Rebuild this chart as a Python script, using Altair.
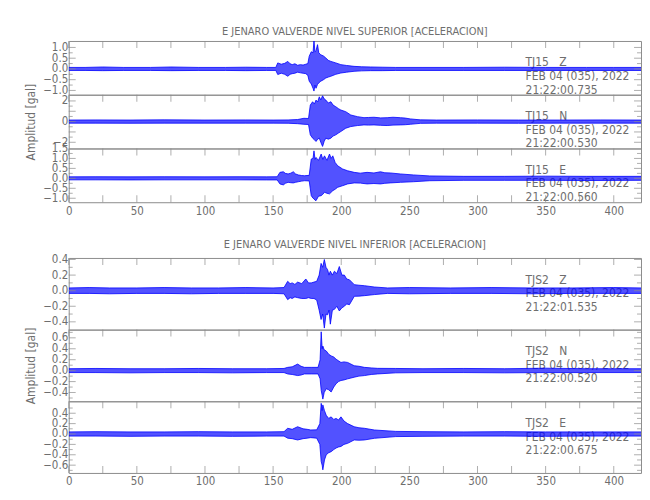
import altair as alt
import pandas as pd

# ---------------- data ----------------
T_MAX = 420
X_LABELS = [0, 50, 100, 150, 200, 250, 300, 350, 400]
X_TICKS = [0, 25, 50, 75, 100, 125, 150, 175, 200, 225, 250, 275, 300, 325, 350, 375, 400]

# Upper station (TJ15) -- amplitude envelope of each component [gal]
tj15_z_t = [0, 12, 25, 40, 60, 75, 95, 115, 130, 145, 152, 153.4, 156, 158.5, 160.8, 162.5, 164, 166, 168, 170,
            172, 174, 175.5, 176.5, 178, 179.3, 180, 180.7, 181.5, 182.6, 183.5, 185, 187, 188.7, 190.5, 192.4,
            196, 199.7, 204, 209.4, 215, 221.6, 230, 240, 260, 290, 320, 350, 380, 400, 420]
tj15_z_up = [0.07, 0.07, 0.09, 0.07, 0.07, 0.09, 0.07, 0.07, 0.08, 0.07, 0.07, 0.28, 0.22, 0.26, 0.35, 0.24, 0.2,
             0.24, 0.17, 0.2, 0.18, 0.22, 0.25, 0.59, 0.8, 0.75, 1.31, 0.8, 0.85, 1.13, 0.75, 0.66, 0.6, 0.51, 0.4,
             0.35, 0.28, 0.2, 0.16, 0.12, 0.1, 0.09, 0.08, 0.07, 0.07, 0.07, 0.08, 0.07, 0.07, 0.07, 0.07]
tj15_z_lo = [-0.07, -0.07, -0.08, -0.07, -0.07, -0.08, -0.07, -0.07, -0.08, -0.07, -0.07, -0.26, -0.2, -0.25, -0.34,
             -0.25, -0.22, -0.2, -0.15, -0.18, -0.2, -0.22, -0.3, -0.57, -0.7, -0.9, -1.03, -0.75, -0.9, -0.72,
             -0.65, -0.57, -0.5, -0.42, -0.38, -0.34, -0.25, -0.19, -0.15, -0.11, -0.09, -0.08, -0.08, -0.07,
             -0.07, -0.07, -0.07, -0.07, -0.07, -0.07, -0.07]

tj15_n_t = [0, 20, 45, 70, 100, 130, 150, 161, 168, 172.6, 176, 177.3, 179, 180.3, 181.5, 182.7, 183.9, 185, 186.3,
            187.5, 188.7, 190.5, 192.4, 194, 196, 198, 199.7, 203.3, 207, 211.9, 216.7, 220, 224, 229, 233.7, 238,
            243.4, 247, 250.7, 258, 270, 300, 330, 360, 390, 420]
tj15_n_up = [0.15, 0.16, 0.15, 0.17, 0.15, 0.16, 0.15, 0.16, 0.2, 0.32, 0.3, 1.6, 1.92, 1.7, 2.08, 1.9, 2.4, 2.1, 2.5,
             2.2, 2.08, 1.8, 1.92, 1.6, 1.44, 1.25, 1.12, 0.96, 0.64, 0.48, 0.38, 0.4, 0.42, 0.36, 0.38, 0.42, 0.38,
             0.34, 0.26, 0.17, 0.15, 0.16, 0.15, 0.15, 0.16, 0.15]
tj15_n_lo = [-0.15, -0.15, -0.16, -0.15, -0.15, -0.15, -0.15, -0.16, -0.2, -0.26, -0.28, -1.28, -1.6, -1.75, -1.92,
             -1.7, -1.6, -2.0, -2.4, -1.9, -1.6, -1.7, -1.6, -1.4, -1.28, -1.1, -0.96, -0.64, -0.48, -0.38, -0.32,
             -0.34, -0.32, -0.36, -0.38, -0.34, -0.32, -0.3, -0.26, -0.17, -0.15, -0.15, -0.16, -0.15, -0.15, -0.15]

tj15_e_t = [0, 20, 45, 70, 100, 125, 145, 153, 155, 157.5, 159, 161, 163, 164.8, 166.5, 168.5, 171, 173, 176.5, 178,
            179.3, 180, 180.8, 181.5, 183.3, 185.3, 186.5, 187.7, 189.5, 191.4, 192.6, 193.8, 195.5, 197.4, 201,
            204.7, 209.5, 214, 219, 224, 228.8, 232, 236, 243.4, 253, 265, 290, 320, 350, 380, 420]
tj15_e_up = [0.075, 0.08, 0.075, 0.08, 0.075, 0.08, 0.075, 0.08, 0.3, 0.33, 0.25, 0.22, 0.26, 0.33, 0.22, 0.17, 0.14,
             0.13, 0.15, 0.97, 1.0, 1.38, 0.95, 1.05, 0.9, 1.22, 0.95, 1.13, 0.9, 1.22, 1.0, 1.13, 0.8, 0.63, 0.47,
             0.38, 0.3, 0.26, 0.3, 0.27, 0.33, 0.28, 0.27, 0.22, 0.17, 0.12, 0.1, 0.1, 0.11, 0.1, 0.1]
tj15_e_lo = [-0.075, -0.075, -0.08, -0.075, -0.075, -0.075, -0.08, -0.08, -0.28, -0.33, -0.25, -0.2, -0.22, -0.23,
             -0.2, -0.17, -0.14, -0.12, -0.13, -0.87, -1.0, -1.03, -1.1, -1.12, -0.9, -0.87, -0.8, -0.7, -0.75,
             -0.78, -0.7, -0.62, -0.55, -0.45, -0.37, -0.28, -0.23, -0.24, -0.28, -0.26, -0.28, -0.25, -0.23, -0.2,
             -0.17, -0.12, -0.1, -0.1, -0.1, -0.11, -0.1]

# Lower station (TJS2)
tjs2_z_t = [0, 15, 30, 50, 70, 90, 110, 130, 150, 158, 160.7, 162.5, 164, 166, 168, 171, 174, 176, 178, 180, 182,
            183.8, 185.2, 186.4, 187.6, 188.8, 190, 191, 192, 193.5, 195, 196.8, 198.6, 200.5, 202.3, 204, 206,
            209.6, 213, 217, 224.3, 234, 250, 280, 310, 340, 370, 400, 420]
tjs2_z_up = [0.035, 0.04, 0.035, 0.035, 0.04, 0.035, 0.035, 0.04, 0.035, 0.04, 0.12, 0.09, 0.1, 0.08, 0.11, 0.09,
             0.15, 0.1, 0.1, 0.11, 0.12, 0.2, 0.35, 0.3, 0.40, 0.3, 0.27, 0.2, 0.25, 0.2, 0.25, 0.22, 0.31, 0.2,
             0.2, 0.15, 0.14, 0.077, 0.07, 0.064, 0.047, 0.035, 0.04, 0.035, 0.04, 0.035, 0.035, 0.04, 0.035]
tjs2_z_lo = [-0.035, -0.035, -0.04, -0.035, -0.035, -0.04, -0.035, -0.035, -0.035, -0.04, -0.115, -0.09, -0.1,
             -0.08, -0.09, -0.1, -0.1, -0.09, -0.1, -0.1, -0.12, -0.25, -0.37, -0.3, -0.48, -0.3, -0.31, -0.25,
             -0.43, -0.25, -0.24, -0.2, -0.26, -0.22, -0.2, -0.17, -0.18, -0.072, -0.07, -0.064, -0.05, -0.035,
             -0.04, -0.035, -0.035, -0.04, -0.035, -0.035, -0.035]

tjs2_n_t = [0, 20, 45, 70, 95, 120, 145, 158, 160.7, 164, 168, 170.5, 173, 178, 183, 184.5, 185.3, 186, 186.5,
            187.5, 189, 190.8, 192.6, 194.5, 196.2, 198, 199.8, 202, 204.7, 209.5, 213, 217, 222, 226.7, 240, 260,
            290, 320, 350, 380, 420]
tjs2_n_up = [0.035, 0.04, 0.035, 0.035, 0.04, 0.035, 0.035, 0.04, 0.06, 0.07, 0.12, 0.08, 0.06, 0.06, 0.06, 0.2,
             0.71, 0.4, 0.45, 0.38, 0.36, 0.3, 0.27, 0.25, 0.21, 0.18, 0.15, 0.16, 0.15, 0.09, 0.08, 0.06, 0.05,
             0.042, 0.04, 0.035, 0.04, 0.035, 0.045, 0.035, 0.035]
tjs2_n_lo = [-0.035, -0.035, -0.04, -0.035, -0.035, -0.04, -0.035, -0.035, -0.06, -0.07, -0.09, -0.08, -0.06,
             -0.06, -0.06, -0.15, -0.36, -0.45, -0.52, -0.4, -0.33, -0.35, -0.39, -0.3, -0.24, -0.2, -0.18, -0.17,
             -0.15, -0.12, -0.1, -0.09, -0.07, -0.06, -0.04, -0.035, -0.035, -0.04, -0.035, -0.035, -0.035]

tjs2_e_t = [0, 20, 45, 70, 95, 120, 145, 158, 160.7, 164, 168, 172, 175, 177.6, 182, 184.3, 185.3, 186, 186.5,
            187.7, 189, 190.8, 192.6, 194.5, 196.2, 198, 199.8, 202, 204.7, 209.5, 213, 217, 224.3, 240, 260, 290,
            320, 350, 380, 420]
tjs2_e_up = [0.04, 0.045, 0.04, 0.04, 0.045, 0.04, 0.04, 0.045, 0.11, 0.09, 0.14, 0.1, 0.09, 0.077, 0.08, 0.2, 0.59,
             0.45, 0.56, 0.45, 0.36, 0.3, 0.33, 0.28, 0.3, 0.27, 0.33, 0.25, 0.2, 0.14, 0.12, 0.11, 0.077, 0.05,
             0.045, 0.04, 0.045, 0.04, 0.04, 0.04]
tjs2_e_lo = [-0.04, -0.04, -0.045, -0.04, -0.04, -0.045, -0.04, -0.04, -0.08, -0.09, -0.115, -0.09, -0.08, -0.07,
             -0.08, -0.2, -0.53, -0.6, -0.69, -0.5, -0.4, -0.36, -0.34, -0.3, -0.27, -0.25, -0.24, -0.2, -0.18,
             -0.115, -0.12, -0.115, -0.083, -0.05, -0.045, -0.04, -0.04, -0.045, -0.04, -0.04]

TITLE_TOP = "E JENARO VALVERDE NIVEL SUPERIOR [ACELERACION]"
TITLE_BOT = "E JENARO VALVERDE NIVEL INFERIOR [ACELERACION]"
Y_TITLE = "Amplitud [gal]"
SP = "\u00a0\u00a0\u00a0"

# ---------------- styling ----------------
FONT = "Liberation Sans Narrow, DejaVu Sans Condensed, Roboto Condensed, Roboto, sans-serif"
GRAY = "#6e6e6e"
FRAME = "#8c8c8c"
BLUE = "#0000ff"
W = 575
FS = 11


def panel(t, up, lo, domain, yvals, ymajor, yminor, yfmt, lines, height, text_y,
          bottom=False, ytitle=None, title=None):
    df = pd.DataFrame({"t": t, "up": up, "lo": lo})
    xs = alt.Scale(domain=[0, T_MAX], nice=False, zero=False)
    ys = alt.Scale(domain=domain, nice=False, zero=False)
    if bottom:
        xaxis = alt.Axis(values=X_LABELS, ticks=False, domain=False, grid=False, labelPadding=3,
                         labelFontSize=FS + 0.5, labelColor=GRAY, labelFont=FONT, labelFlush=False, title=None)
    else:
        xaxis = None
    yaxis = alt.Axis(values=yvals, format=yfmt, ticks=False, domain=False, grid=False, labelPadding=1,
                     labelOverlap=False, labelFlush=False, labelBound=False, labelFontSize=FS + 0.5,
                     labelColor=GRAY, labelFont=FONT, title=ytitle, titleX=-31, titleFont=FONT,
                     titleFontSize=12, titleColor=GRAY, titleFontWeight="normal")

    base = alt.Chart(df)
    area = base.mark_area(color=BLUE, opacity=0.68, clip=True).encode(
        x=alt.X("t:Q", scale=xs, axis=xaxis),
        y=alt.Y("lo:Q", scale=ys, axis=yaxis),
        y2="up:Q",
    )
    up_line = base.mark_line(color=BLUE, strokeWidth=0.8, clip=True).encode(
        x=alt.X("t:Q", scale=xs, axis=xaxis), y=alt.Y("up:Q", scale=ys, axis=yaxis))
    lo_line = base.mark_line(color=BLUE, strokeWidth=0.8, clip=True).encode(
        x=alt.X("t:Q", scale=xs, axis=xaxis), y=alt.Y("lo:Q", scale=ys, axis=yaxis))

    texts = []
    for line, yy in zip(lines, text_y):
        texts.append(
            alt.Chart(pd.DataFrame({"txt": [line]})).mark_text(
                align="left", baseline="middle", font=FONT, fontSize=12, color=GRAY
            ).encode(text="txt:N", x=alt.value(459), y=alt.value(yy))
        )

    xt = pd.DataFrame({"v": X_TICKS})
    top_ticks = alt.Chart(xt).mark_tick(orient="vertical", color=FRAME, size=7, thickness=1).encode(
        x=alt.X("v:Q", scale=xs, axis=xaxis), y=alt.value(3.5))
    layers = texts + [area, up_line, lo_line, top_ticks]
    if bottom:
        layers.append(alt.Chart(xt).mark_tick(orient="vertical", color=FRAME, size=7, thickness=1).encode(
            x=alt.X("v:Q", scale=xs, axis=xaxis), y=alt.value(height - 3.5)))

    for vals, sz in ((ymajor, 7), (yminor, 4)):
        yt = pd.DataFrame({"v": vals})
        for xx in (sz / 2, W - sz / 2):
            layers.append(alt.Chart(yt).mark_tick(orient="horizontal", color=FRAME, size=sz, thickness=1).encode(
                y=alt.Y("v:Q", scale=ys, axis=yaxis), x=alt.value(xx)))

    props = dict(width=W, height=height)
    if title is not None:
        props["title"] = alt.Title(title, font=FONT, fontSize=FS, color=GRAY, fontWeight="normal",
                                   anchor="middle", frame="group", offset=4)
    return alt.layer(*layers).properties(**props)


TY_TOP = [21.5, 35, 49]
TY_BOT = [22, 35.5, 49]

p1 = panel(tj15_z_t, tj15_z_up, tj15_z_lo, [-1.2, 1.3], [-1.0, -0.5, 0.0, 0.5, 1.0],
           [-1.0, -0.5, 0.0, 0.5, 1.0], [-0.75, -0.25, 0.25, 0.75], ".1f",
           ["TJ15" + SP + "Z", "FEB 04 (035), 2022", "21:22:00.735"], 54, TY_TOP, title=TITLE_TOP)
p2 = panel(tj15_n_t, tj15_n_up, tj15_n_lo, [-2.6, 2.6], [-2, 0, 2],
           [-2, -1, 0, 1, 2], [-1.5, -0.5, 0.5, 1.5], "d",
           ["TJ15" + SP + "N", "FEB 04 (035), 2022", "21:22:00.530"], 54, TY_TOP, ytitle=Y_TITLE)
p3 = panel(tj15_e_t, tj15_e_up, tj15_e_lo, [-1.2, 1.5], [-1.0, -0.5, 0.0, 0.5, 1.0, 1.5],
           [-1.0, -0.5, 0.0, 0.5, 1.0], [-0.75, -0.25, 0.25, 0.75, 1.25], ".1f",
           ["TJ15" + SP + "E", "FEB 04 (035), 2022", "21:22:00.560"], 54, TY_TOP, bottom=True)

q1 = panel(tjs2_z_t, tjs2_z_up, tjs2_z_lo, [-0.5, 0.42], [-0.4, -0.2, 0.0, 0.2, 0.4],
           [-0.4, -0.2, 0.0, 0.2, 0.4], [-0.3, -0.1, 0.1, 0.3], ".1f",
           ["TJS2" + SP + "Z", "FEB 04 (035), 2022", "21:22:01.535"], 72, TY_BOT, title=TITLE_BOT)
q2 = panel(tjs2_n_t, tjs2_n_up, tjs2_n_lo, [-0.56, 0.75], [-0.4, -0.2, 0.0, 0.2, 0.4, 0.6],
           [-0.4, -0.2, 0.0, 0.2, 0.4, 0.6], [-0.5, -0.3, -0.1, 0.1, 0.3, 0.5, 0.7], ".1f",
           ["TJS2" + SP + "N", "FEB 04 (035), 2022", "21:22:00.520"], 72, TY_BOT, ytitle=Y_TITLE)
q3 = panel(tjs2_e_t, tjs2_e_up, tjs2_e_lo, [-0.75, 0.63], [-0.6, -0.4, -0.2, 0.0, 0.2, 0.4],
           [-0.6, -0.4, -0.2, 0.0, 0.2, 0.4], [-0.7, -0.5, -0.3, -0.1, 0.1, 0.3, 0.5], ".1f",
           ["TJS2" + SP + "E", "FEB 04 (035), 2022", "21:22:00.675"], 72, TY_BOT, bottom=True)

top_group = alt.vconcat(p1, p2, p3, spacing=0, bounds="flush")
bot_group = alt.vconcat(q1, q2, q3, spacing=0, bounds="flush")

chart = alt.vconcat(top_group, bot_group, spacing=21).properties(
    padding={"left": 16, "top": 16, "right": 0, "bottom": 2},
    background="white",
).configure_view(stroke=FRAME, strokeWidth=1)

chart.save("out.html", embed_options={"renderer": "svg", "actions": False})
